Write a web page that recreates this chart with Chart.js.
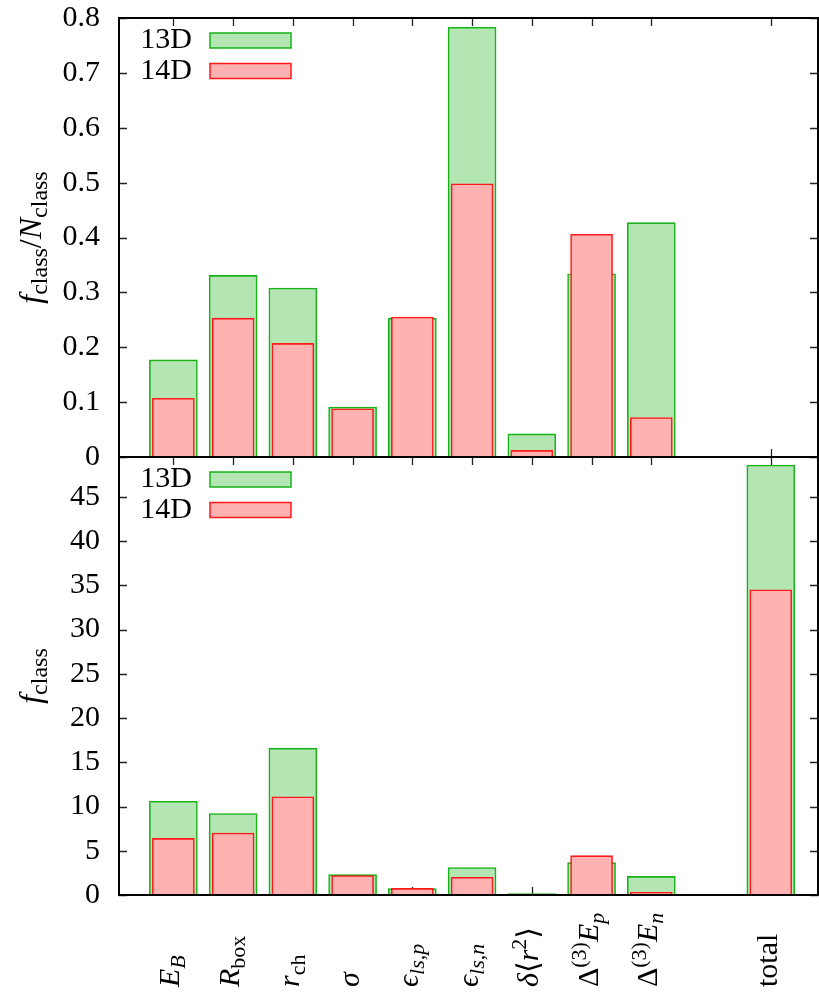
<!DOCTYPE html>
<html>
<head>
<meta charset="utf-8">
<script src="https://cdn.jsdelivr.net/npm/chart.js@4/dist/chart.umd.min.js"></script>
<style>
  html, body { margin: 0; padding: 0; background: #fff; }
  #wrap { position: relative; width: 819px; height: 999px; overflow: hidden; }
  canvas { position: absolute; left: 0; }
  #fracChart { top: 0; }
  #countChart { top: 457px; }
  /* warms up the serif faces used on the canvases */
  #warm { position: absolute; left: -2000px; top: 0; font: 30px "Liberation Serif", "DejaVu Serif", serif; }
</style>
</head>
<body>
<div id="wrap">
  <canvas id="fracChart" width="819" height="480"></canvas>
  <canvas id="countChart" width="819" height="542"></canvas>
</div>
<div id="warm">0.8 13D total <i>E R f N</i> <span style="font-family: 'DejaVu Serif'">ϵ ⟨⟩ <i>ϵ δ σ</i></span></div>
<script>
// Observable classes. '$...$' is math (slanted letters), '_' / '^' start sub- and superscripts.
const categories = ['$E_B$', '$R_{\\rm box}$', '$r_{\\rm ch}$', '$σ$', '$ϵ_{ls,p}$', '$ϵ_{ls,n}$',
  '$δ⟨r^2⟩$', '$Δ^{(3)}E_p$', '$Δ^{(3)}E_n$', '', 'total'];

// f_class / N_class
const frac13D = [0.177, 0.331, 0.308, 0.091, 0.253, 0.783, 0.042, 0.334, 0.427, null, null];
const frac14D = [0.107, 0.253, 0.207, 0.088, 0.255, 0.498, 0.012, 0.406, 0.072, null, null];

// f_class
const count13D = [10.6, 9.2, 16.6, 2.3, 0.72, 3.1, 0.15, 3.65, 2.1, null, 48.6];
const count14D = [6.4, 7.0, 11.1, 2.2, 0.74, 2.0, 0.05, 4.45, 0.3, null, 34.5];

const fracTicks = [0, 0.1, 0.2, 0.3, 0.4, 0.5, 0.6, 0.7, 0.8];
const countTicks = [0, 5, 10, 15, 20, 25, 30, 35, 40, 45];

const SERIF = '"Liberation Serif", "DejaVu Serif", serif';
const GREEN = { fill: 'rgb(179, 230, 179)', line: 'rgb(25, 178, 25)' };
const RED = { fill: 'rgb(255, 178, 178)', line: 'rgb(255, 25, 25)' };
const TICK = 8;

// tiny TeX-ish markup -> [{t, it, pos}]
function parseTex(src) {
  const out = [];
  let math = false;
  let i = 0;
  const slanted = (c) => /[A-Za-zα-ωϵ]/.test(c);
  const push = (t, it, pos) => {
    const last = out[out.length - 1];
    if (last && last.it === it && last.pos === pos) last.t += t;
    else out.push({ t, it, pos });
  };
  const emit = (str, pos, roman) => {
    for (const c of str) push(c, math && !roman && slanted(c), pos);
  };
  while (i < src.length) {
    const c = src[i];
    if (c === '$') { math = !math; i++; continue; }
    if (c === '_' || c === '^') {
      const pos = c === '_' ? 'sub' : 'sup';
      let grp;
      if (src[i + 1] === '{') {
        const j = src.indexOf('}', i);
        grp = src.slice(i + 2, j);
        i = j + 1;
      } else {
        grp = src[i + 1];
        i += 2;
      }
      let roman = false;
      if (grp.startsWith('\\rm ')) { roman = true; grp = grp.slice(4); }
      emit(grp, pos, roman);
      continue;
    }
    emit(c, 'base', false);
    i++;
  }
  return out;
}

function segFont(seg, size, small) {
  const s = seg.pos === 'base' ? size : small;
  return (seg.it ? 'italic ' : '') + s + 'px ' + SERIF;
}

function richWidth(ctx, parts, size, small) {
  let w = 0;
  for (const p of parts) {
    ctx.font = segFont(p, size, small);
    w += ctx.measureText(p.t).width;
  }
  return w;
}

// draws on the alphabetic baseline starting at (x, y)
function drawRich(ctx, parts, x, y, size, small) {
  let cx = x;
  ctx.textAlign = 'left';
  ctx.textBaseline = 'alphabetic';
  for (const p of parts) {
    ctx.font = segFont(p, size, small);
    const dy = p.pos === 'sub' ? size * 0.2 : p.pos === 'sup' ? -size * 0.38 : 0;
    ctx.fillText(p.t, cx, y + dy);
    cx += ctx.measureText(p.t).width;
  }
}

function series(values) {
  return values.map((y, i) => ({ x: i + 1, y })).filter((p) => p.y !== null);
}

function makeDatasets(v13, v14) {
  return [
    { label: '13D', data: series(v13), backgroundColor: GREEN.fill, borderColor: GREEN.line,
      borderWidth: 1.6, barThickness: 48, order: 1 },
    { label: '14D', data: series(v14), backgroundColor: RED.fill, borderColor: RED.line,
      borderWidth: 1.6, barThickness: 42, order: 0 },
  ];
}

// gnuplot-like frame: inward ticks on every side, key, axis title, rotated class names
const framePlugin = {
  id: 'frame',
  beforeDatasetsDraw(chart) {
    const { ctx, chartArea: a, scales: { x, y } } = chart;
    ctx.save();
    ctx.strokeStyle = '#222';
    ctx.lineWidth = 1.3;
    ctx.beginPath();
    y.ticks.forEach((t) => {
      const py = Math.round(y.getPixelForValue(t.value)) + 0.5;
      ctx.moveTo(a.left, py); ctx.lineTo(a.left + TICK, py);
      ctx.moveTo(a.right, py); ctx.lineTo(a.right - TICK, py);
    });
    categories.forEach((c, i) => {
      if (!c) return;
      const px = Math.round(x.getPixelForValue(i + 1)) + 0.5;
      ctx.moveTo(px, a.top); ctx.lineTo(px, a.top + TICK);
      ctx.moveTo(px, a.bottom); ctx.lineTo(px, a.bottom - TICK);
    });
    ctx.stroke();
    ctx.restore();
  },
  afterDatasetsDraw(chart) {
    const { ctx, chartArea: a } = chart;
    ctx.save();
    ctx.strokeStyle = '#000';
    ctx.lineWidth = 2;
    ctx.strokeRect(a.left, a.top, a.right - a.left, a.bottom - a.top);
    ctx.restore();
  },
  afterDraw(chart, args, opts) {
    const { ctx, chartArea: a, scales: { x } } = chart;
    ctx.save();

    // key
    chart.data.datasets.forEach((ds, k) => {
      const cy = a.top + 22.5 + 30.5 * k;
      ctx.font = '30px ' + SERIF;
      ctx.textAlign = 'right';
      ctx.textBaseline = 'middle';
      ctx.fillStyle = '#000';
      ctx.fillText(ds.label, a.left + 73, cy);
      ctx.fillStyle = ds.backgroundColor;
      ctx.fillRect(a.left + 91, cy - 7.5, 81, 15);
      ctx.strokeStyle = ds.borderColor;
      ctx.lineWidth = 1.5;
      ctx.strokeRect(a.left + 91, cy - 7.5, 81, 15);
    });

    // y title
    ctx.fillStyle = '#000';
    const tp = parseTex(opts.title);
    const tw = richWidth(ctx, tp, 32, 24);
    ctx.save();
    ctx.translate(41, (a.top + a.bottom) / 2);
    ctx.rotate(-Math.PI / 2);
    drawRich(ctx, tp, -tw / 2, 0, 32, 24);
    ctx.restore();

    // class names under the lower panel
    if (opts.classNames) {
      categories.forEach((c, i) => {
        if (!c) return;
        const px = x.getPixelForValue(i + 1);
        ctx.save();
        ctx.translate(px + 6, a.bottom + 92);
        ctx.rotate(-Math.PI / 2);
        drawRich(ctx, parseTex(c), 0, 0, 30, 22);
        ctx.restore();
      });
    }
    ctx.restore();
  },
};

function yAxis(max, ticks) {
  return {
    type: 'linear',
    min: 0,
    max: max,
    bounds: 'data',
    grid: { display: false, drawTicks: false },
    border: { display: false },
    afterBuildTicks: (s) => { s.ticks = ticks.map((v) => ({ value: v })); },
    afterFit: (s) => { s.width = 119; s.paddingTop = 0; s.paddingBottom = 0; },
    ticks: {
      padding: 19,
      color: '#000',
      font: { family: SERIF, size: 30 },
      callback: (v) => String(v),
    },
  };
}

function xAxis(shown) {
  return {
    type: 'linear',
    min: 0.09,
    max: 11.79,
    offset: false,
    bounds: 'data',
    display: shown,
    grid: { display: false, drawTicks: false },
    border: { display: false },
    ticks: { display: false },
    afterFit: (s) => {
      s.height = shown ? 104 : 0;
      s.paddingLeft = 0;
      s.paddingRight = 0;
    },
  };
}

function makeChart(id, v13, v14, yMax, ticks, title, lower) {
  return new Chart(document.getElementById(id), {
    type: 'bar',
    data: { datasets: makeDatasets(v13, v14) },
    options: {
      responsive: false,
      animation: false,
      events: [],
      grouped: false,
      layout: { padding: lower ? { top: 0, right: 1, bottom: 0, left: 0 } : { top: 18, right: 1, bottom: 23, left: 0 } },
      scales: { x: xAxis(lower), y: yAxis(yMax, ticks) },
      plugins: {
        legend: { display: false },
        tooltip: { enabled: false },
        frame: { title: title, classNames: lower },
      },
    },
    plugins: [framePlugin],
  });
}

const charts = [
  makeChart('fracChart', frac13D, frac14D, 0.8, fracTicks, '$f_{\\rm class}/N_{\\rm class}$', false),
  makeChart('countChart', count13D, count14D, 49.5, countTicks, '$f_{\\rm class}$', true),
];

// system fonts may arrive after the first paint; redraw once they are in
const redraw = () => charts.forEach((c) => c.update());
document.fonts.ready.then(redraw);
setTimeout(redraw, 150);
setTimeout(redraw, 400);
</script>
</body>
</html>
